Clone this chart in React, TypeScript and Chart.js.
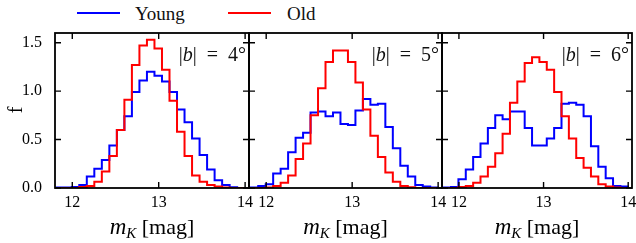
import React, { useEffect, useRef } from 'react';
import { Chart, registerables } from 'chart.js';

Chart.register(...registerables);

// ---- data ----
const BIN_EDGES = [
  11.820, 11.907, 11.994, 12.081, 12.168, 12.255, 12.342, 12.429, 12.516, 12.603,
  12.690, 12.777, 12.864, 12.951, 13.038, 13.125, 13.212, 13.299, 13.386, 13.473,
  13.560, 13.647, 13.734, 13.821, 13.908, 13.995,
];
const X_TICKS = [12, 13, 14];
const Y_TICKS = [0, 0.5, 1.0, 1.5];
const PANEL_LATITUDES = ['4', '5', '6'];
const SERIES_NAMES = ['Young', 'Old'];

const YOUNG_B4 = [0.005, 0.005, 0.01, 0.03, 0.12, 0.20, 0.29, 0.44, 0.60, 0.74, 0.99, 1.11, 1.20, 1.16, 1.10, 0.99, 0.81, 0.68, 0.51, 0.34, 0.19, 0.08, 0.03, 0.007, 0];
const OLD_B4 = [0, 0, 0, 0.01, 0.02, 0.065, 0.17, 0.33, 0.60, 0.91, 1.27, 1.47, 1.53, 1.44, 1.22, 0.90, 0.58, 0.33, 0.13, 0.065, 0.03, 0.015, 0.005, 0, 0];

const YOUNG_B5 = [0.005, 0.02, 0.04, 0.15, 0.20, 0.37, 0.52, 0.57, 0.78, 0.79, 0.74, 0.78, 0.66, 0.65, 0.80, 0.92, 0.86, 0.87, 0.63, 0.41, 0.23, 0.12, 0.03, 0.015, 0.005];
const OLD_B5 = [0, 0, 0.005, 0.02, 0.055, 0.13, 0.30, 0.46, 0.75, 1.03, 1.30, 1.42, 1.42, 1.30, 1.09, 0.81, 0.54, 0.32, 0.16, 0.065, 0.02, 0.007, 0, 0, 0];

const YOUNG_B6 = [0.005, 0.01, 0.09, 0.19, 0.32, 0.46, 0.62, 0.75, 0.71, 0.79, 0.79, 0.62, 0.44, 0.44, 0.51, 0.62, 0.87, 0.88, 0.86, 0.74, 0.43, 0.22, 0.10, 0.02, 0.015];
const OLD_B6 = [0, 0, 0.01, 0.02, 0.055, 0.12, 0.22, 0.36, 0.56, 0.88, 1.10, 1.29, 1.35, 1.30, 1.22, 0.99, 0.74, 0.51, 0.31, 0.21, 0.12, 0.04, 0.015, 0.005, 0];

const YOUNG_SERIES = [YOUNG_B4, YOUNG_B5, YOUNG_B6];
const OLD_SERIES = [OLD_B4, OLD_B5, OLD_B6];

// ---- layout / style ----
const FIG_W = 636;
const FIG_H = 243;
const PANELS = [
  { left: 55, right: 249 },
  { left: 249, right: 442 },
  { left: 442, right: 632 },
];
const AREA_TOP = 33;
const AREA_BOTTOM = 188;
const X_MIN = 11.8;
const X_MAX = 14.045;
const Y_MIN = 0;
const Y_MAX = 1.6;
const BLUE = '#0000ff';
const RED = '#ff0000';
const SERIF = '"Liberation Serif", "DejaVu Serif", serif';

function stepPoints(values: number[]) {
  const pts = [{ x: BIN_EDGES[0], y: 0 }];
  values.forEach((v, i) => pts.push({ x: BIN_EDGES[i], y: v }));
  pts.push({ x: BIN_EDGES[values.length], y: 0 });
  return pts;
}

function drawPieces(ctx: CanvasRenderingContext2D, pieces: { t: string; font: string; dy?: number }[], x: number, y: number, align: 'left' | 'center' | 'right') {
  let total = 0;
  const widths = pieces.map((p) => {
    ctx.font = p.font;
    const w = ctx.measureText(p.t).width;
    total += w;
    return w;
  });
  let cx = align === 'left' ? x : align === 'right' ? x - total : x - total / 2;
  ctx.textAlign = 'left';
  ctx.textBaseline = 'alphabetic';
  pieces.forEach((p, i) => {
    ctx.font = p.font;
    ctx.fillText(p.t, cx, y + (p.dy || 0));
    cx += widths[i];
  });
}

function makeFramePlugin(panelIndex: number) {
  return {
    id: 'frameAndText' + panelIndex,
    afterDraw(chart: any) {
      const ctx: CanvasRenderingContext2D = chart.ctx;
      const { left, right, top, bottom } = chart.chartArea;
      const xs = chart.scales.x;
      const ys = chart.scales.y;
      ctx.save();
      ctx.strokeStyle = '#000';
      ctx.lineWidth = 1.4;
      const tl = 6;
      ctx.beginPath();
      X_TICKS.forEach((v) => {
        const px = xs.getPixelForValue(v);
        ctx.moveTo(px, bottom);
        ctx.lineTo(px, bottom - tl);
        ctx.moveTo(px, top);
        ctx.lineTo(px, top + tl);
      });
      Y_TICKS.forEach((v) => {
        const py = ys.getPixelForValue(v);
        ctx.moveTo(left, py);
        ctx.lineTo(left + tl, py);
        ctx.moveTo(right, py);
        ctx.lineTo(right - tl, py);
      });
      ctx.stroke();
      ctx.lineWidth = 1.8;
      ctx.strokeRect(left, top, right - left, bottom - top);

      ctx.fillStyle = '#111';
      // panel annotation |b| = N°
      const f = 20;
      drawPieces(
        ctx,
        [
          { t: '|', font: `${f}px ${SERIF}` },
          { t: 'b', font: `italic ${f}px ${SERIF}` },
          { t: '|', font: `${f}px ${SERIF}` },
          { t: '\u2002=\u2002', font: `${f}px ${SERIF}` },
          { t: PANEL_LATITUDES[panelIndex] + '°', font: `${f}px ${SERIF}` },
        ],
        right - 3,
        61,
        'right'
      );
      // x axis title
      ctx.fillStyle = '#000';
      drawPieces(
        ctx,
        [
          { t: 'm', font: `italic 23px ${SERIF}` },
          { t: 'K', font: `italic 15px ${SERIF}`, dy: 4 },
          { t: ' [mag]', font: `22px ${SERIF}` },
        ],
        (left + right) / 2,
        234,
        'center'
      );
      // y axis title
      if (panelIndex === 0) {
        ctx.translate(22, 110);
        ctx.rotate(-Math.PI / 2);
        ctx.font = `20px ${SERIF}`;
        ctx.textAlign = 'center';
        ctx.textBaseline = 'alphabetic';
        ctx.fillText('f', 0, 0);
      }
      ctx.restore();
    },
  };
}

function Panel({ index }: { index: number }) {
  const ref = useRef<HTMLCanvasElement | null>(null);
  useEffect(() => {
    const canvas = ref.current;
    if (!canvas) return;
    const p = PANELS[index];
    const chart = new Chart(canvas, {
      type: 'line',
      data: {
        datasets: [
          {
            label: SERIES_NAMES[0],
            data: stepPoints(YOUNG_SERIES[index]),
            borderColor: BLUE,
            backgroundColor: BLUE,
            borderWidth: 2,
            stepped: true,
            pointRadius: 0,
            fill: false,
            order: 2,
          },
          {
            label: SERIES_NAMES[1],
            data: stepPoints(OLD_SERIES[index]),
            borderColor: RED,
            backgroundColor: RED,
            borderWidth: 2,
            stepped: true,
            pointRadius: 0,
            fill: false,
            order: 1,
          },
        ],
      },
      options: {
        animation: false,
        responsive: false,
        events: [],
        layout: {
          padding: {
            left: index === 0 ? 0 : p.left,
            right: FIG_W - p.right,
            top: AREA_TOP,
            bottom: 0,
          },
        },
        plugins: { legend: { display: false }, tooltip: { enabled: false } },
        scales: {
          x: {
            type: 'linear',
            min: X_MIN,
            max: X_MAX,
            grid: { display: false },
            border: { display: false },
            afterBuildTicks: (s: any) => {
              s.ticks = X_TICKS.map((v) => ({ value: v }));
            },
            afterFit: (s: any) => {
              s.height = FIG_H - AREA_BOTTOM;
            },
            ticks: {
              color: '#000',
              padding: -3,
              maxRotation: 0,
              autoSkip: false,
              font: { family: SERIF, size: 16 },
              callback: (v: any) => String(v),
            },
          },
          y: {
            type: 'linear',
            min: Y_MIN,
            max: Y_MAX,
            display: index === 0,
            grid: { display: false },
            border: { display: false },
            afterBuildTicks: (s: any) => {
              s.ticks = Y_TICKS.map((v) => ({ value: v }));
            },
            afterFit: (s: any) => {
              s.width = index === 0 ? PANELS[0].left : 0;
            },
            ticks: {
              color: '#000',
              padding: 5,
              font: { family: SERIF, size: 16 },
              callback: (v: any) => Number(v).toFixed(1),
            },
          },
        },
      },
      plugins: [makeFramePlugin(index)],
    });
    return () => chart.destroy();
  }, [index]);
  return (
    <canvas
      ref={ref}
      width={FIG_W}
      height={FIG_H}
      style={{ position: 'absolute', left: 0, top: 0, width: FIG_W, height: FIG_H }}
    />
  );
}

const LEGEND_ITEMS = [
  { name: SERIES_NAMES[0], color: BLUE, lineLeft: 77, textLeft: 135 },
  { name: SERIES_NAMES[1], color: RED, lineLeft: 228, textLeft: 287 },
];

export default function App() {
  return (
    <div
      style={{
        position: 'absolute',
        left: 0,
        top: 0,
        width: FIG_W,
        height: FIG_H,
        overflow: 'hidden',
        background: '#fff',
      }}
    >
      {LEGEND_ITEMS.map((it) => (
        <React.Fragment key={it.name}>
          <div
            style={{
              position: 'absolute',
              left: it.lineLeft,
              top: 11.5,
              width: 43,
              height: 2.5,
              background: it.color,
            }}
          />
          <span
            style={{
              position: 'absolute',
              left: it.textLeft,
              top: 4,
              fontFamily: SERIF,
              fontSize: 19,
              lineHeight: '19px',
              color: '#111',
              whiteSpace: 'nowrap',
            }}
          >
            {it.name}
          </span>
        </React.Fragment>
      ))}
      {[0, 1, 2].map((i) => (
        <Panel key={i} index={i} />
      ))}
    </div>
  );
}
